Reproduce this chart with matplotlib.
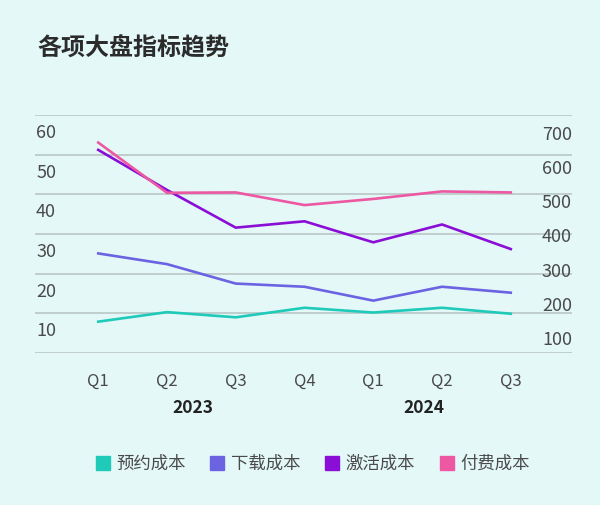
import numpy as np
import matplotlib
matplotlib.use("Agg")
import matplotlib.pyplot as plt
import matplotlib.transforms as mtransforms
from matplotlib.lines import Line2D

plt.rcParams['font.family'] = ['Noto Sans CJK SC', 'DejaVu Sans']

# data
quarters = ['Q1', 'Q2', 'Q3', 'Q4', 'Q1', 'Q2', 'Q3']
years = ['2023', '2024']
year_pos = [1.38, 4.74]

series_names = ['预约成本', '下载成本', '激活成本', '付费成本']
yuyue = [7.9, 10.3, 9.0, 11.4, 10.2, 11.4, 9.9]        # left axis
xiazai = [25.1, 22.4, 17.5, 16.7, 13.2, 16.7, 15.2]    # left axis
jihuo = [51.2, 41.1, 31.6, 33.2, 27.9, 32.4, 26.2]     # left axis
fufei = [672, 525, 526, 489, 507, 529, 526]            # right axis

left_ticks = [0, 10, 20, 30, 40, 50, 60]
left_labels = ['', '10', '20', '30', '40', '50', '60']
right_ticks = [100, 200, 300, 400, 500, 600, 700]

colors = ['#1fcab9', '#6c63e2', '#8a0ed6', '#ec58a2']
bg = '#e4f8f8'
txt = '#4a4a4a'

fig = plt.figure(figsize=(6, 5.05), dpi=100)
fig.patch.set_facecolor(bg)
ax = fig.add_axes([0.0583, 0.301, 0.895, 0.4713])
ax.set_facecolor(bg)
ax2 = ax.twinx()

x = np.arange(len(quarters))
ax.plot(x, yuyue, color=colors[0], lw=1.9, zorder=3)
ax.plot(x, xiazai, color=colors[1], lw=1.9, zorder=3)
ax.plot(x, jihuo, color=colors[2], lw=1.9, zorder=3)
ax2.plot(x, fufei, color=colors[3], lw=1.9, zorder=3)

ax.set_xlim(-0.92, 6.89)
ax.set_ylim(0, 60)
ax2.set_ylim(56.1, 752.7)

# grid + left labels (labels sit a bit below their gridline)
ax.set_yticks(left_ticks)
ax.set_yticklabels([])
ax.tick_params(axis='y', length=0)
ax.grid(axis='y', color='#b9c6c6', lw=1.2)
ax.set_axisbelow(True)
off = mtransforms.ScaledTranslation(0, -0.18, fig.dpi_scale_trans)
trans = mtransforms.blended_transform_factory(ax.transAxes, ax.transData) + off
for v, lab in zip(left_ticks, left_labels):
    ax.text(0.002, v, lab, transform=trans, ha='left', va='center',
            fontsize=13, color=txt)

ax2.set_yticks(right_ticks)
ax2.set_yticklabels([str(v) for v in right_ticks], fontsize=13, color=txt)
ax2.tick_params(axis='y', length=0, pad=0)
for t in ax2.get_yticklabels():
    t.set_horizontalalignment('right')

ax.set_xticks(x)
ax.set_xticklabels(quarters, fontsize=12, color=txt)
ax.tick_params(axis='x', length=0, pad=14)

for s in list(ax.spines.values()) + list(ax2.spines.values()):
    s.set_visible(False)

ytrans = mtransforms.blended_transform_factory(ax.transData, ax.transAxes)
for xp, yr in zip(year_pos, years):
    ax.text(xp, -0.231, yr, transform=ytrans, ha='center', va='center',
            fontsize=12.5, fontweight='bold', color='#222222')

fig.text(0.0617, 0.905, '各项大盘指标趋势', ha='left', va='center',
         fontsize=17.3, fontweight='bold', color='#2b2b2b')

handles = [Line2D([], [], marker='s', ls='none', markersize=10,
                  markerfacecolor=c, markeredgecolor=c) for c in colors]
fig.legend(handles, series_names, loc='center', bbox_to_anchor=(0.52, 0.081),
           ncol=4, frameon=False, fontsize=12.5, handletextpad=0.3,
           columnspacing=1.3, handlelength=1.0, labelcolor=txt)

fig.savefig('out.png', dpi=100, facecolor=bg)
